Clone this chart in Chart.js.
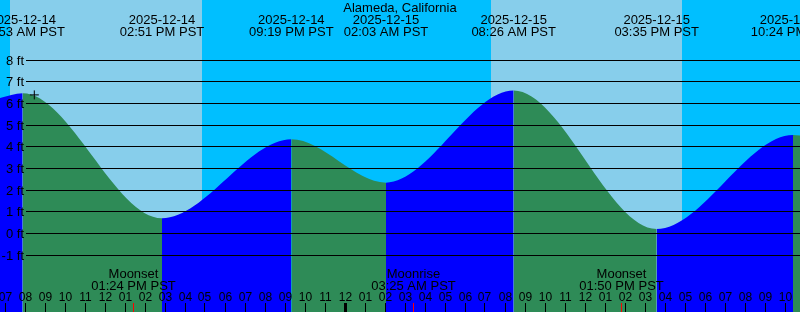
<!DOCTYPE html>
<html>
<head>
<meta charset="utf-8">
<script src="https://cdn.jsdelivr.net/npm/chart.js@4/dist/chart.umd.min.js"></script>
<style>
  html, body { margin: 0; padding: 0; background: #00BFFF; }
  #wrap { width: 800px; height: 312px; }
</style>
</head>
<body>
<div id="wrap"><canvas id="c" width="800" height="312"></canvas></div>
<script>
// ---- Data (hours counted from 2025-12-14 00:00 PST) ----
const title = 'Alameda, California';
const tideDates = ['2025-12-14', '2025-12-14', '2025-12-14', '2025-12-15', '2025-12-15', '2025-12-15', '2025-12-15'];
const tideTimes = ['07:53 AM PST', '02:51 PM PST', '09:19 PM PST', '02:03 AM PST', '08:26 AM PST', '03:35 PM PST', '10:24 PM PST'];
const tideHours = [7.883, 14.85, 21.317, 26.05, 32.433, 39.583, 46.4];
const tideFeet  = [6.48, 0.71, 4.35, 2.35, 6.60, 0.21, 4.55];
// curve height read at the left and right edges of the window
const edgeHours = [6.75, 46.75];
const edgeFeet  = [6.26, 4.53];
// sunrise / sunset
const sunriseHours = [7.25, 31.3];
const sunsetHours  = [16.85, 40.85];
// moon events
const moonLabels = ['Moonset', 'Moonrise', 'Moonset'];
const moonTimes  = ['01:24 PM PST', '03:25 AM PST', '01:50 PM PST'];
const moonHours  = [13.4, 27.417, 37.833];
// marker (+) on the curve
const markHour = [8.465];
const markFeet = [6.4];
// axes
const yTicks = [-1, 0, 1, 2, 3, 4, 5, 6, 7, 8];
const hourTicks = [7,8,9,10,11,12,13,14,15,16,17,18,19,20,21,22,23,24,25,26,27,28,29,30,31,32,33,34,35,36,37,38,39,40,41,42,43,44,45,46];

const DAY = '#87CEEB', NIGHT = '#00BFFF', FLOOD = '#0000FF', EBB = '#2E8B57', MARK = '#FF0000';
const FONT = '"Liberation Sans", Arial, Helvetica, sans-serif';

const curve = [{x: edgeHours[0], y: edgeFeet[0]}]
  .concat(tideHours.map((h, i) => ({x: h, y: tideFeet[i]})))
  .concat([{x: edgeHours[1], y: edgeFeet[1]}]);

const bgPlugin = {
  id: 'bg',
  beforeDatasetsDraw(chart) {
    const {ctx, chartArea: a, scales: {x}} = chart;
    ctx.save();
    ctx.fillStyle = NIGHT;
    ctx.fillRect(a.left, a.top, a.right - a.left, a.bottom - a.top);
    ctx.fillStyle = DAY;
    sunriseHours.forEach((h, i) => {
      const x0 = Math.round(x.getPixelForValue(h));
      const x1 = Math.round(x.getPixelForValue(sunsetHours[i]));
      ctx.fillRect(x0, a.top, x1 - x0, a.bottom - a.top);
    });
    ctx.restore();
  }
};

const overlayPlugin = {
  id: 'overlay',
  afterDatasetsDraw(chart) {
    const {ctx, chartArea: a, scales: {x, y}} = chart;
    ctx.save();
    // horizontal grid + labels
    ctx.strokeStyle = '#000';
    ctx.lineWidth = 1;
    ctx.fillStyle = '#000';
    ctx.font = '13px ' + FONT;
    ctx.textAlign = 'right';
    ctx.textBaseline = 'alphabetic';
    yTicks.forEach(v => {
      const py = Math.floor(y.getPixelForValue(v)) + 0.5;
      ctx.beginPath();
      ctx.moveTo(26, py);
      ctx.lineTo(a.right, py);
      ctx.stroke();
      ctx.fillText(v + ' ft', 24, py + 4);
    });
    // hour ticks
    ctx.font = '12px ' + FONT;
    ctx.textAlign = 'center';
    hourTicks.forEach(h => {
      const px = Math.floor(x.getPixelForValue(h)) + 0.5;
      const midnight = (h % 24) === 0;
      ctx.lineWidth = midnight ? 3 : 1;
      ctx.beginPath();
      ctx.moveTo(px, 303);
      ctx.lineTo(px, a.bottom);
      ctx.stroke();
      const h12 = (h % 12) || 12;
      ctx.fillText(String(h12).padStart(2, '0'), px, 301);
    });
    // moon events
    ctx.strokeStyle = MARK;
    ctx.lineWidth = 1;
    ctx.font = '13px ' + FONT;
    moonHours.forEach((h, i) => {
      const px = Math.floor(x.getPixelForValue(h)) + 0.5;
      ctx.beginPath();
      ctx.moveTo(px, 303);
      ctx.lineTo(px, a.bottom);
      ctx.stroke();
      ctx.fillText(moonLabels[i], px, 278);
      ctx.fillText(moonTimes[i], px, 290);
    });
    // title + tide events
    ctx.fillText(title, (a.left + a.right) / 2, 12);
    tideHours.forEach((h, i) => {
      const px = x.getPixelForValue(h);
      ctx.fillText(tideDates[i], px, 23.5);
      ctx.fillText(tideTimes[i], px, 36);
    });
    ctx.restore();
  }
};

new Chart(document.getElementById('c'), {
  type: 'line',
  data: {
    datasets: [
      {
        data: curve,
        cubicInterpolationMode: 'monotone',
        fill: 'start',
        borderWidth: 0,
        borderColor: 'rgba(0,0,0,0)',
        backgroundColor: EBB,
        pointRadius: 0,
        segment: {
          backgroundColor: c => (c.p1.parsed.y > c.p0.parsed.y ? FLOOD : EBB)
        },
        order: 2
      },
      {
        type: 'scatter',
        data: markHour.map((h, i) => ({x: h, y: markFeet[i]})),
        pointStyle: 'cross',
        pointRadius: 4.5,
        borderColor: '#000',
        borderWidth: 1,
        backgroundColor: '#000',
        order: 1
      }
    ]
  },
  options: {
    responsive: false,
    devicePixelRatio: 1,
    animation: false,
    layout: { padding: 0, autoPadding: false },
    plugins: { legend: { display: false }, tooltip: { enabled: false } },
    scales: {
      x: { type: 'linear', min: 6.75, max: 46.75, display: false },
      y: { type: 'linear', min: -3.62, max: 10.78, display: false }
    }
  },
  plugins: [bgPlugin, overlayPlugin]
});
</script>
</body>
</html>
